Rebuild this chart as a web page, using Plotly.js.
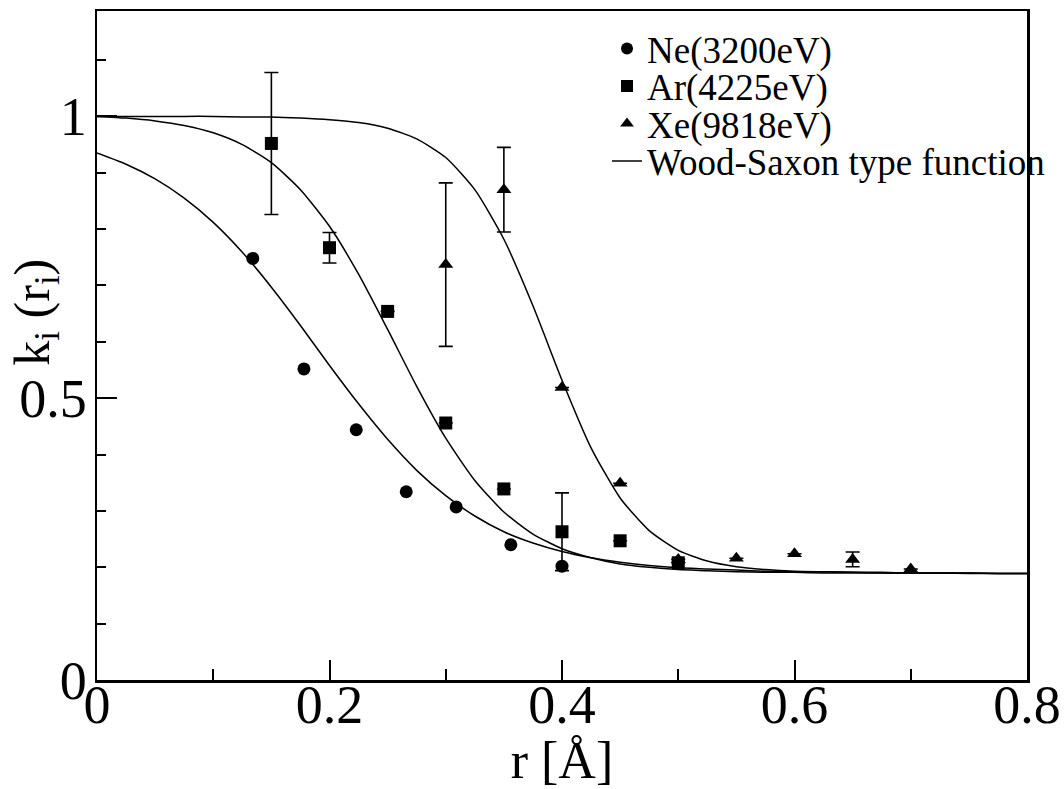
<!DOCTYPE html>
<html>
<head>
<meta charset="utf-8">
<script src="https://cdn.plot.ly/plotly-3.0.1.min.js"></script>
<style>html,body{margin:0;padding:0;background:#fff;}#chart{width:1064px;height:789px;}</style>
</head>
<body>
<div id="chart"></div>
<script>
// Measured data points
const R_NE = [0.134, 0.178, 0.223, 0.266, 0.309, 0.356, 0.400];
const K_NE = [0.748, 0.552, 0.444, 0.334, 0.307, 0.240, 0.202];

const R_AR = [0.15, 0.20, 0.25, 0.30, 0.35, 0.40, 0.45, 0.50];
const K_AR = [0.952, 0.767, 0.654, 0.456, 0.339, 0.263, 0.247, 0.208];
const ERR_AR = [0.126, 0.027, null, null, null, 0.069, null, null];

const R_XE = [0.30, 0.35, 0.40, 0.45, 0.50, 0.55, 0.60, 0.65, 0.70];
const K_XE = [0.737, 0.870, 0.519, 0.349, 0.214, 0.216, 0.224, 0.214, 0.197];
const ERR_XE = [0.145, 0.075, null, null, null, null, null, 0.013, null];

// Wood-Saxon type curves
const R_CURVE = [0, 0.025, 0.05, 0.075, 0.1, 0.125, 0.15, 0.175, 0.2, 0.225, 0.25, 0.275, 0.3, 0.325, 0.35, 0.375, 0.4,
                 0.425, 0.45, 0.475, 0.5, 0.525, 0.55, 0.575, 0.6, 0.625, 0.65, 0.675, 0.7, 0.725, 0.75, 0.775, 0.8];
const K_CURVE_NE = [0.935, 0.915, 0.889, 0.855, 0.812, 0.759, 0.697, 0.629, 0.558, 0.490, 0.427, 0.372, 0.327, 0.291, 0.263, 0.243, 0.228,
                    0.217, 0.209, 0.203, 0.199, 0.197, 0.195, 0.193, 0.192, 0.192, 0.191, 0.191, 0.190, 0.190, 0.190, 0.189, 0.189];
const K_CURVE_AR = [1.000, 0.997, 0.992, 0.984, 0.971, 0.950, 0.918, 0.870, 0.805, 0.720, 0.622, 0.521, 0.429, 0.354, 0.298, 0.259, 0.233,
                    0.217, 0.206, 0.200, 0.196, 0.194, 0.192, 0.191, 0.191, 0.190, 0.190, 0.190, 0.190, 0.190, 0.189, 0.189, 0.189];
const K_CURVE_XE = [1.000, 1.000, 1.000, 1.000, 1.000, 0.999, 0.999, 0.997, 0.994, 0.989, 0.979, 0.960, 0.927, 0.870, 0.782, 0.664, 0.532,
                    0.412, 0.323, 0.265, 0.230, 0.211, 0.201, 0.196, 0.193, 0.192, 0.191, 0.190, 0.190, 0.190, 0.190, 0.189, 0.189];

const X_TICKS = [0, 0.2, 0.4, 0.6, 0.8];
const X_TICK_TEXT = ['0', '0.2', '0.4', '0.6', '0.8'];
const Y_TICKS = [0, 0.5, 1];
const Y_TICK_TEXT = ['0', '0.5', '1'];

const FONT = '"Liberation Serif", "Times New Roman", Times, serif';
const curveLine = {color: '#000', width: 1.5, shape: 'spline', smoothing: 0.6};

const traces = [
  {x: R_CURVE, y: K_CURVE_NE, mode: 'lines', line: curveLine, name: 'Wood-Saxon type function',
   legend: 'legend4', legendgroup: 'ws', showlegend: true},
  {x: R_CURVE, y: K_CURVE_AR, mode: 'lines', line: curveLine, name: 'Wood-Saxon type function',
   legend: 'legend4', legendgroup: 'ws', showlegend: false},
  {x: R_CURVE, y: K_CURVE_XE, mode: 'lines', line: curveLine, name: 'Wood-Saxon type function',
   legend: 'legend4', legendgroup: 'ws', showlegend: false},
  {x: R_NE, y: K_NE, mode: 'markers', name: 'Ne(3200eV)', legend: 'legend',
   marker: {symbol: 'circle', size: 13, color: '#000'}},
  {x: R_AR, y: K_AR, mode: 'markers', name: 'Ar(4225eV)', legend: 'legend2',
   marker: {symbol: 'square', size: 13, color: '#000'},
   error_y: {type: 'data', array: ERR_AR, visible: true, color: '#000', thickness: 1.6, width: 7}},
  {x: R_XE, y: K_XE, mode: 'markers', name: 'Xe(9818eV)', legend: 'legend3',
   marker: {symbol: 'triangle-up', size: 13, color: '#000'},
   error_y: {type: 'data', array: ERR_XE, visible: true, color: '#000', thickness: 1.6, width: 7}}
];

function legendAt(py, sizing) {
  return {x: 0.5484, y: (680 - py) / 669, xanchor: 'left', yanchor: 'middle', bgcolor: 'rgba(0,0,0,0)',
          font: {family: FONT, size: 37, color: '#000'}, itemsizing: sizing};
}

const layout = {
  width: 1064, height: 789,
  paper_bgcolor: '#fff', plot_bgcolor: '#fff',
  margin: {l: 97, r: 37, t: 11, b: 109, autoexpand: false},
  font: {family: FONT, color: '#000'},
  showlegend: true,
  legend: legendAt(49, 'constant'),
  legend2: legendAt(86.5, 'constant'),
  legend3: legendAt(124, 'constant'),
  legend4: legendAt(161.5, 'trace'),
  xaxis: {
    range: [0, 0.8], tickvals: X_TICKS, ticktext: X_TICK_TEXT,
    ticks: 'inside', ticklen: 20, tickwidth: 2, tickcolor: '#000',
    minor: {dtick: 0.1, tick0: 0, ticks: 'inside', ticklen: 11, tickwidth: 2, tickcolor: '#000'},
    showline: true, linewidth: 2.5, linecolor: '#000', mirror: true,
    showgrid: false, zeroline: false, ticklabelstandoff: -24,
    tickfont: {family: FONT, size: 54, color: '#000'},
    title: {text: 'r [Å]', font: {family: FONT, size: 52, color: '#000'}, standoff: 1}
  },
  yaxis: {
    range: [0, 1.187], tickvals: Y_TICKS, ticktext: Y_TICK_TEXT,
    ticks: 'inside', ticklen: 20, tickwidth: 2, tickcolor: '#000',
    minor: {dtick: 0.1, tick0: 0, ticks: 'inside', ticklen: 9, tickwidth: 2, tickcolor: '#000'},
    showline: true, linewidth: 2.5, linecolor: '#000', mirror: true,
    showgrid: false, zeroline: false, ticklabelstandoff: -3,
    tickfont: {family: FONT, size: 54, color: '#000'}
  },
  annotations: [
    {text: 'k<sub>i</sub> (r<sub>i</sub>)', xref: 'paper', yref: 'paper', x: -0.066, y: 0.55,
     xanchor: 'center', yanchor: 'middle', textangle: -90, showarrow: false,
     font: {family: FONT, size: 50, color: '#000'}}
  ]
};

Plotly.newPlot('chart', traces, layout, {displayModeBar: false, staticPlot: true});
</script>
</body>
</html>
